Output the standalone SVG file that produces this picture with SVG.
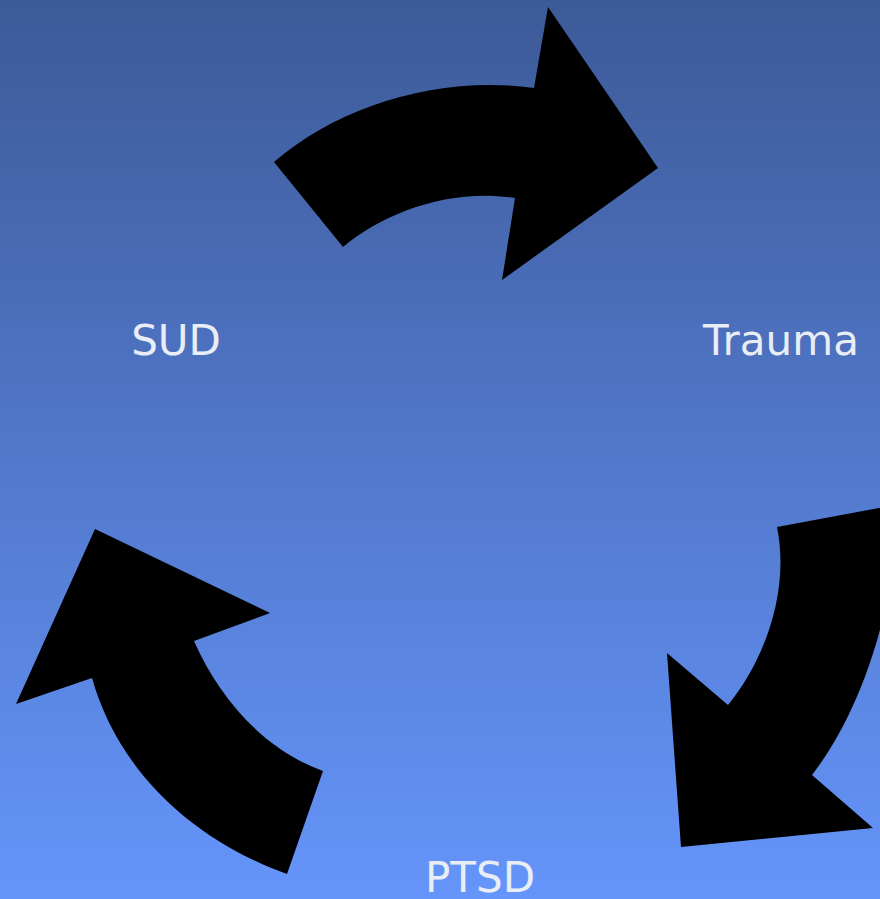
<svg xmlns="http://www.w3.org/2000/svg" width="880" height="899" viewBox="0 0 880 899">
<defs>
<linearGradient id="bg" x1="0" y1="0" x2="0" y2="1">
<stop offset="0" stop-color="#3d5a98"/>
<stop offset="1" stop-color="#6595fb"/>
</linearGradient>
<style>
.arrow{fill:#000;stroke:none}
.lbl{font-family:"DejaVu Sans","Liberation Sans",sans-serif;font-size:42px;fill:#e9edf5;text-anchor:middle}
</style>
</defs>
<rect x="0" y="0" width="880" height="899" fill="url(#bg)"/>
<g id="connectors">
<path id="arrow-sud-trauma" class="arrow" d="M274,162 C340,105 440,75 534,88 L548,7 L658,168 L502,280 L515,198 C450,188 385,212 343,247 Z"/>
<path id="arrow-trauma-ptsd" class="arrow" d="M777,527 L895,505 C900,580 870,700 812,775 L873,828 L681,847 L667,653 L728,705 C765,660 790,590 777,527 Z"/>
<path id="arrow-ptsd-sud" class="arrow" d="M95,529 L270,613 L194,641 C220,700 265,750 323,771 L287,874 C180,835 115,760 92,678 L16,704 Z"/>
</g>
<g id="node-sud"><text class="lbl" x="176" y="355">SUD</text></g>
<g id="node-trauma"><text class="lbl" x="781" y="355">Trauma</text></g>
<g id="node-ptsd"><text class="lbl" x="480" y="892">PTSD</text></g>
</svg>
